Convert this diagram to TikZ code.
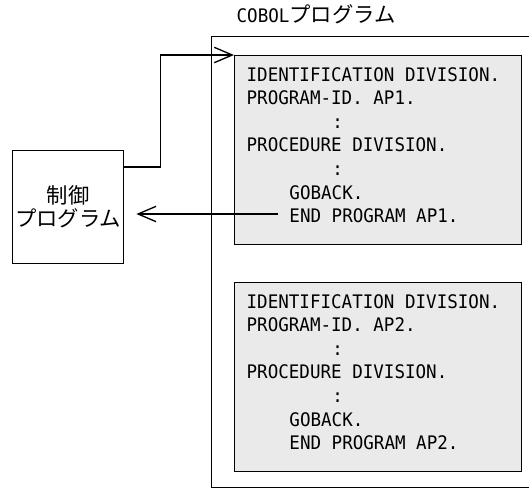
\documentclass[tikz,border=0pt]{standalone}
\usepackage{fontspec}
\usepackage{xcolor}
\usepackage{tikz}
\usetikzlibrary{arrows.meta, positioning}
\newfontfamily\codefont{DejaVu Sans Mono}[FakeStretch=0.94]
\newfontfamily\jpfont{Noto Sans CJK JP}
\definecolor{codegray}{RGB}{234,234,234}

\begin{document}
\begin{tikzpicture}[x=0.75pt, y=-0.75pt, line width=1pt,
    codebox/.style={draw, fill=codegray, anchor=north west, inner sep=0pt,
      minimum width=215.25pt, minimum height=141.75pt},
    codeline/.style={anchor=base west, inner sep=0pt,
      font=\codefont\fontsize{14}{16}\selectfont\frenchspacing},
    arr/.style={-{Straight Barb[length=13.5pt, width=11.5pt]}}]
    \useasboundingbox (0,0) rectangle (529,489);
    \node[anchor=base west, inner sep=0pt] (title) at (236,22)
      {{\codefont\fontsize{14}{16}\selectfont COBOL}{\jpfont\fontsize{16}{18}\selectfont プログラム}};
    \node[draw, anchor=north west, inner sep=0pt, minimum width=240pt, minimum height=338.25pt] (cobol) at (211,36) {};
    \node[codebox] (ap1) at (234,55) {};
    \node[codebox] (ap2) at (234,282) {};
    \node[draw, anchor=north west, inner sep=0pt, align=center,
      minimum width=83.25pt, minimum height=84.75pt,
      font=\jpfont\fontsize{16}{17.25}\selectfont] (ctrl) at (12,150) {制御\\プログラム};
    % AP1
    \node[codeline] (ap1id) at (246,81) {IDENTIFICATION DIVISION.};
    \node[codeline] (ap1pid) at (246,104.6) {PROGRAM-ID. AP1.};
    \node[codeline] (ap1dotsa) at (331.6,128.2) {:};
    \node[codeline] (ap1proc) at (246,151.8) {PROCEDURE DIVISION.};
    \node[codeline] (ap1dotsb) at (331.6,175.4) {:};
    \node[codeline] (ap1goback) at (288.8,199) {GOBACK.};
    \node[codeline] (ap1end) at (288.8,222.6) {END PROGRAM AP1.};
    % AP2
    \node[codeline] (ap2id) at (246,308) {IDENTIFICATION DIVISION.};
    \node[codeline] (ap2pid) at (246,331.6) {PROGRAM-ID. AP2.};
    \node[codeline] (ap2dotsa) at (331.6,355.2) {:};
    \node[codeline] (ap2proc) at (246,378.8) {PROCEDURE DIVISION.};
    \node[codeline] (ap2dotsb) at (331.6,402.4) {:};
    \node[codeline] (ap2goback) at (288.8,426) {GOBACK.};
    \node[codeline] (ap2end) at (288.8,449.6) {END PROGRAM AP2.};
    % call and return
    \coordinate (ret) at (278,214);
    \draw[arr] ([yshift=-12.75pt]ctrl.north east) -- ++(36,0) |- (ap1.north west);
    \draw[arr, shorten >=9pt] (ret) -- (ret -| ctrl.east);
\end{tikzpicture}
\end{document}
